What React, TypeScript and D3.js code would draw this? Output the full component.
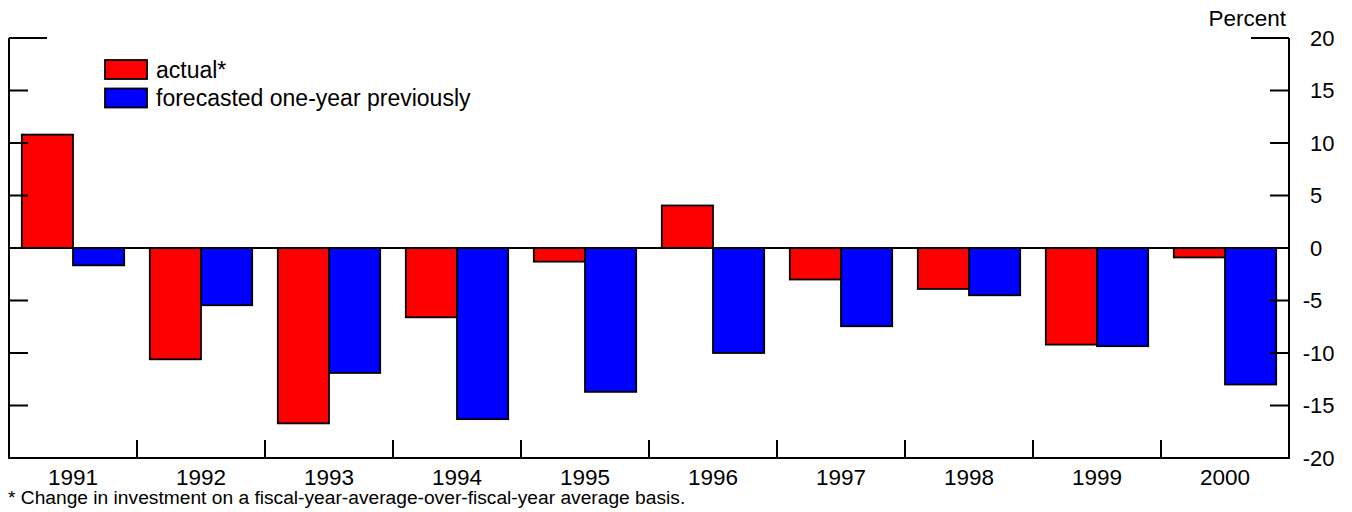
import React from "react";
import * as d3 from "d3";

const years = ["1991", "1992", "1993", "1994", "1995", "1996", "1997", "1998", "1999", "2000"];
const actual = [10.8, -10.6, -16.7, -6.6, -1.3, 4.05, -3.0, -3.9, -9.2, -0.9];
const forecast = [-1.65, -5.45, -11.9, -16.3, -13.7, -10.0, -7.45, -4.5, -9.35, -13.0];
const yTicks = [20, 15, 10, 5, 0, -5, -10, -15, -20];
const seriesNames = ["actual*", "forecasted one-year previously"];
const seriesColors = ["#ff0000", "#0000ff"];
const footnote = "* Change in investment on a fiscal-year-average-over-fiscal-year average basis.";
const unitLabel = "Percent";

const W = 1352;
const H = 512;
const left = 9;
const right = 1289;
const top = 38;
const bottom = 458;
const font = "'Liberation Sans', Arial, sans-serif";

export default function App() {
  const x = d3.scaleBand<string>().domain(years).range([left, right]).paddingInner(0).paddingOuter(0);
  const inner = d3.scaleBand<number>().domain([0, 1]).range([0, x.bandwidth()]).paddingOuter(0.25).paddingInner(0);
  const y = d3.scaleLinear().domain([-20, 20]).range([bottom, top]);
  const series = [actual, forecast];

  return (
    <div style={{ position: "absolute", left: 0, top: 0 }}>
      <svg width={W} height={H} style={{ display: "block", background: "#fff" }} fontFamily={font}>
        {series.map((vals, si) =>
          vals.map((v, i) => {
            const bx = (x(years[i]) as number) + (inner(si) as number);
            const y0 = y(0);
            const y1 = y(v);
            return (
              <rect
                key={`${si}-${i}`}
                x={bx}
                y={Math.min(y0, y1)}
                width={inner.bandwidth()}
                height={Math.abs(y1 - y0)}
                fill={seriesColors[si]}
                stroke="#000"
                strokeWidth={1.8}
              />
            );
          })
        )}
        <line x1={left} x2={right} y1={y(0)} y2={y(0)} stroke="#000" strokeWidth={2} />
        <line x1={left} x2={left} y1={top} y2={bottom} stroke="#000" strokeWidth={2} />
        <line x1={right} x2={right} y1={top} y2={bottom} stroke="#000" strokeWidth={2} />
        <line x1={left - 1} x2={right + 1} y1={bottom} y2={bottom} stroke="#000" strokeWidth={2} />
        {yTicks.map((t) => {
          const len = t === 20 ? 38 : 19;
          if (t === -20 || t === 0) return null;
          return (
            <g key={`t${t}`}>
              <line x1={left} x2={left + len} y1={y(t)} y2={y(t)} stroke="#000" strokeWidth={2} />
              <line x1={right - len} x2={right} y1={y(t)} y2={y(t)} stroke="#000" strokeWidth={2} />
            </g>
          );
        })}
        {yTicks.map((t) => (
          <g key={`l${t}`} fontSize={22} fill="#000">
            <text x={1310} y={y(t)} dy="0.36em" textAnchor="start">
              {String(Math.abs(t))}
            </text>
            {t < 0 && (
              <text x={1310} y={y(t)} dy="0.36em" textAnchor="end">
                -
              </text>
            )}
          </g>
        ))}
        {years.slice(1).map((yr) => (
          <line
            key={`c${yr}`}
            x1={x(yr) as number}
            x2={x(yr) as number}
            y1={bottom}
            y2={bottom - 18}
            stroke="#000"
            strokeWidth={2}
          />
        ))}
        {years.map((yr) => (
          <text
            key={`yl${yr}`}
            x={(x(yr) as number) + x.bandwidth() / 2}
            y={485}
            textAnchor="middle"
            fontSize={22.5}
          >
            {yr}
          </text>
        ))}
        <text x={1286} y={26} textAnchor="end" fontSize={22.5}>
          {unitLabel}
        </text>
        {seriesNames.map((n, i) => (
          <g key={`lg${i}`}>
            <rect x={105} y={60 + i * 28.5} width={42} height={19} fill={seriesColors[i]} stroke="#000" strokeWidth={1.8} />
            <text x={156} y={77.5 + i * 28.5} fontSize={23}>
              {n}
            </text>
          </g>
        ))}
        <text x={8} y={504} fontSize={19.2}>
          {footnote}
        </text>
      </svg>
    </div>
  );
}
